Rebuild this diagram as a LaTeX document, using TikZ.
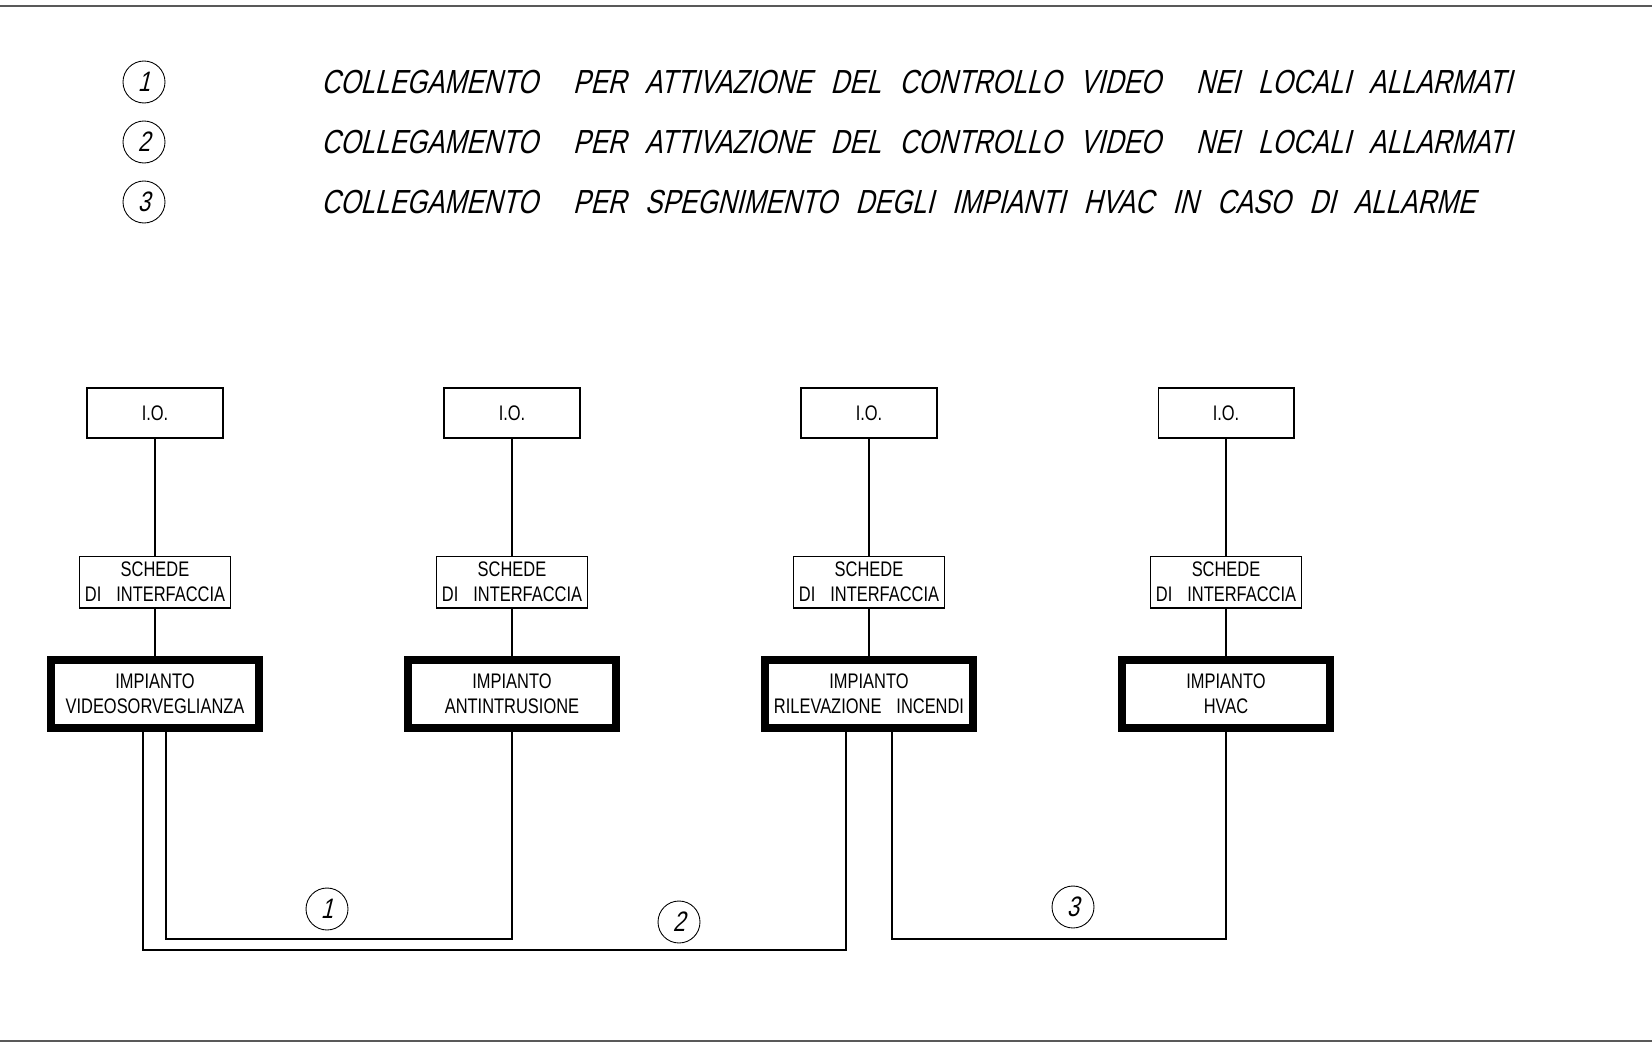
\documentclass[tikz,border=0pt]{standalone}
\usepackage{fontspec}
\setmainfont{Liberation Sans}
\newfontfamily\boxfont[FakeStretch=0.78]{Liberation Sans}
\newfontfamily\legendfont[FakeStretch=0.78,FakeSlant=0.25]{Liberation Sans}
\usepackage{tikz}
\usetikzlibrary{positioning}
\newcommand{\lgap}{\hspace{0.37cm}}
\newcommand{\lwgap}{\hspace{0.7cm}}
\tikzset{
    %Define standard line style
    wire/.style={draw=black, line width=0.6pt},
    %Define style for sheet border lines
    sheetline/.style={draw=gray!70!black, line width=1.1pt},
    %Define style for I.O. boxes
    iobox/.style={
           rectangle,
           draw=black, line width=0.6pt,
           minimum width=2.72cm,
           minimum height=1cm,
           font=\boxfont\fontsize{12}{14}\selectfont},
    %Define style for interface boxes
    schedebox/.style={
           rectangle,
           draw=black, line width=0.6pt,
           minimum width=3.02cm,
           minimum height=1.04cm,
           inner sep=1pt,
           align=center,
           font=\boxfont\fontsize{12}{14}\selectfont},
    %Define style for plant boxes
    impianto/.style={
           rectangle,
           draw=black, line width=0.16cm,
           fill=white,
           minimum width=4.16cm,
           minimum height=1.36cm,
           inner sep=1pt,
           align=center,
           font=\boxfont\fontsize{12}{14}\selectfont},
    % Define numbered circle style
    numcirc/.style={circle,draw=black,line width=0.5pt,minimum size=0.84cm,inner sep=0pt,
           font=\legendfont\fontsize{16}{16}\selectfont},
    legend/.style={anchor=west,inner sep=0pt,font=\legendfont\fontsize{19}{19}\selectfont}
}

\begin{document}
\begin{tikzpicture}[x=0.02cm,y=-0.02cm,node distance=2.34cm]
  \useasboundingbox (0,0) rectangle (1652,1047);
  \draw[sheetline] (0,6) -- (1652,6);
  \draw[sheetline] (0,1041) -- (1652,1041);

  % legend
  \node[numcirc] (l1) at (144,82) {1};
  \node[numcirc] (l2) at (144,142) {2};
  \node[numcirc] (l3) at (144,202) {3};
  \node[legend] (t1) at (321,82) {COLLEGAMENTO\lwgap PER\lgap ATTIVAZIONE\lgap DEL\lgap CONTROLLO\lgap VIDEO\lwgap NEI\lgap LOCALI\lgap ALLARMATI};
  \node[legend] (t2) at (321,142) {COLLEGAMENTO\lwgap PER\lgap ATTIVAZIONE\lgap DEL\lgap CONTROLLO\lgap VIDEO\lwgap NEI\lgap LOCALI\lgap ALLARMATI};
  \node[legend] (t3) at (321,202) {COLLEGAMENTO\lwgap PER\lgap SPEGNIMENTO\lgap DEGLI\lgap IMPIANTI\lgap HVAC\lgap IN\lgap CASO\lgap DI\lgap ALLARME};

  % columns
  \node[iobox] (io1) at (155,413) {I.O.};
  \node[iobox] (io2) at (512,413) {I.O.};
  \node[iobox] (io3) at (869,413) {I.O.};
  \node[iobox] (io4) at (1226,413) {I.O.};
  \node[schedebox] (sc1) [below=of io1] {SCHEDE\\DI\hspace{0.3cm}INTERFACCIA};
  \node[schedebox] (sc2) [below=of io2] {SCHEDE\\DI\hspace{0.3cm}INTERFACCIA};
  \node[schedebox] (sc3) [below=of io3] {SCHEDE\\DI\hspace{0.3cm}INTERFACCIA};
  \node[schedebox] (sc4) [below=of io4] {SCHEDE\\DI\hspace{0.3cm}INTERFACCIA};
  \node[impianto] (imp1) [below=0.94cm of sc1] {IMPIANTO\\VIDEOSORVEGLIANZA};
  \node[impianto] (imp2) [below=0.94cm of sc2] {IMPIANTO\\ANTINTRUSIONE};
  \node[impianto] (imp3) [below=0.94cm of sc3] {IMPIANTO\\RILEVAZIONE\hspace{0.3cm}INCENDI};
  \node[impianto] (imp4) [below=0.94cm of sc4] {IMPIANTO\\HVAC};
  \path[wire]
    (io1) edge (sc1) (sc1) edge (imp1)
    (io2) edge (sc2) (sc2) edge (imp2)
    (io3) edge (sc3) (sc3) edge (imp3)
    (io4) edge (sc4) (sc4) edge (imp4);

  % links between plants
  \coordinate (bus1) at (0,939);
  \coordinate (bus2) at (0,950);
  \coordinate (s1a) at ([xshift=0.22cm]imp1.south);
  \coordinate (s1b) at ([xshift=-0.24cm]imp1.south);
  \coordinate (s3a) at ([xshift=-0.46cm]imp3.south);
  \coordinate (s3b) at ([xshift=0.46cm]imp3.south);
  \draw[wire] (s1a) |- (imp2 |- bus1) -- (imp2);
  \draw[wire] (s1b) |- (s3a |- bus2) -- (s3a);
  \draw[wire] (s3b) |- (imp4 |- bus1) -- (imp4);
  \node[numcirc] (n1) at (327,909) {1};
  \node[numcirc] (n2) at (679,922) {2};
  \node[numcirc] (n3) at (1073,907) {3};
\end{tikzpicture}
\end{document}
